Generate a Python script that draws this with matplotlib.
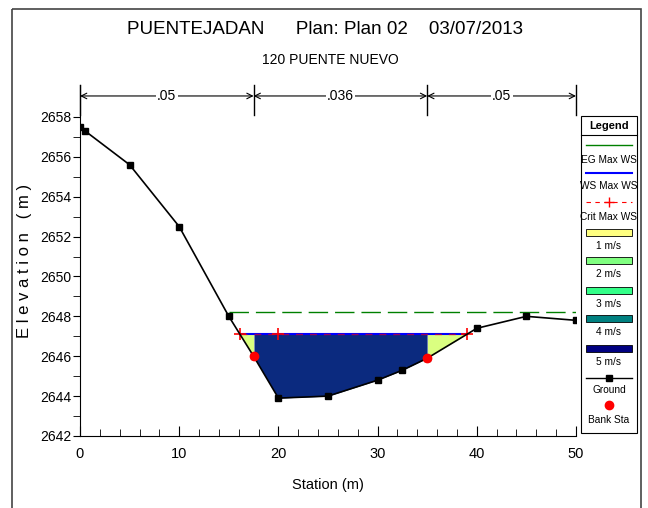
import matplotlib
matplotlib.use("Agg")
import matplotlib.pyplot as plt
import numpy as np
from matplotlib.patches import Rectangle

plt.rcParams['font.family'] = ['Liberation Sans Narrow', 'Liberation Sans', 'DejaVu Sans']

# ground profile
station = [0, 0.5, 5, 10, 15, 17.5, 20, 25, 30, 32.5, 35, 40, 45, 50]
elev = [2657.5, 2657.3, 2655.6, 2652.5, 2648.0, 2646.0, 2643.9, 2644.0, 2644.8, 2645.3, 2645.9, 2647.4, 2648.0, 2647.8]
bank_sta = [17.5, 35]
bank_elev = [2646.0, 2645.9]

ws_elev = 2647.1
eg_elev = 2648.2
eg_start = 15
crit_sta = [16.1, 20, 39.0]

n_breaks = [0, 17.5, 35, 50]
n_values = [".05", ".036", ".05"]

legend_names = ["1 m/s", "2 m/s", "3 m/s", "4 m/s", "5 m/s"]
legend_colors = ["#FFFF80", "#80FF80", "#33FF88", "#008080", "#000080"]
channel_color = "#0B2A7F"
overbank_color = "#DAFF80"

W, H = 648, 508
fig = plt.figure(figsize=(W / 100, H / 100), dpi=100)

ax = fig.add_axes([80 / W, 1 - 436 / H, 496 / W, 351 / H])
ax.set_xlim(0, 50)
ax.set_ylim(2642, 2659.6)

st = np.array(station)
el = np.array(elev)

# water edges
left_edge = np.interp(ws_elev, el[4:6][::-1], st[4:6][::-1])
right_edge = np.interp(ws_elev, el[10:12], st[10:12])

xs = np.linspace(left_edge, right_edge, 600)
gs = np.interp(xs, st, el)
over_l = xs <= bank_sta[0]
over_r = xs >= bank_sta[1]
chan = (xs >= bank_sta[0]) & (xs <= bank_sta[1])
ax.fill_between(xs, gs, ws_elev, where=over_l, color=overbank_color, lw=0)
ax.fill_between(xs, gs, ws_elev, where=over_r, color=overbank_color, lw=0)
ax.fill_between(xs, gs, ws_elev, where=chan, color=channel_color, lw=0)

# EG, WS, crit
ax.plot([eg_start, 50], [eg_elev, eg_elev], color="#008000", lw=1, dashes=(14, 5))
ax.plot([left_edge, right_edge], [ws_elev, ws_elev], color="#0000FF", lw=1.5)
ax.plot([left_edge, right_edge], [ws_elev, ws_elev], color="#FF0000", lw=1, dashes=(5, 5), alpha=0.6)
ax.plot(crit_sta, [ws_elev] * len(crit_sta), ls="none", marker="+", color="#FF0000", ms=8, mew=1.2)

# ground
ax.plot(station, elev, color="black", lw=1.2, marker="s", ms=5, mfc="black", zorder=5)
ax.plot(bank_sta, bank_elev, ls="none", marker="o", color="#FF0000", ms=6, zorder=6)

# n values
for xb in n_breaks:
    ax.plot([xb, xb], [2658.1, 2659.6], color="black", lw=1, clip_on=False)
for i, nv in enumerate(n_values):
    a, b = n_breaks[i], n_breaks[i + 1]
    ax.annotate("", xy=(a, 2659.05), xytext=(b, 2659.05),
                arrowprops=dict(arrowstyle="<->", color="black", lw=0.8, shrinkA=0, shrinkB=0))
    ax.text((a + b) / 2, 2659.05, nv, ha="center", va="center", fontsize=10,
            bbox=dict(fc="white", ec="none", pad=1))

ax.spines['top'].set_visible(False)
ax.spines['right'].set_visible(False)
ax.spines['left'].set_bounds(2642, 2659.6)
ax.set_xticks(range(0, 51, 10))
ax.set_xticks(range(0, 51, 2), minor=True)
ax.set_yticks(range(2642, 2659, 2))
ax.set_yticks(range(2643, 2659, 2), minor=True)
ax.tick_params(axis='x', which='both', direction='in', labelsize=10.5, pad=8)
ax.tick_params(axis='x', which='major', length=7)
ax.tick_params(axis='x', which='minor', length=5)
ax.tick_params(axis='y', which='both', direction='out', length=5, labelsize=10, pad=1)
ax.set_xlabel("Station (m)", fontsize=10.5, labelpad=12)
ax.set_ylabel("E l e v a t i o n   ( m )", fontsize=12, labelpad=6)

# overlay in pixel space for titles, legend and frame
ov2 = fig.add_axes([0, 0, 1, 1], zorder=10)
ov2.set_xlim(0, W)
ov2.set_ylim(H, 0)
ov2.axis("off")
ov2.patch.set_alpha(0)

ov2.text(325, 30, "PUENTEJADAN      Plan: Plan 02    03/07/2013", ha="center", va="center", fontsize=13.5)
ov2.text(330, 60, "120 PUENTE NUEVO", ha="center", va="center", fontsize=10)

ov2.add_patch(Rectangle((12, 9), 629, 510, fill=False, ec="#444444", lw=1.2))

# legend box
fs = 7.3
ov2.add_patch(Rectangle((581, 116), 56, 317, fc="white", ec="black", lw=0.8))
ov2.plot([581, 637], [135, 135], color="black", lw=0.8)
ov2.text(609, 126, "Legend", ha="center", va="center", fontsize=8, fontweight="bold")
ov2.plot([586, 632], [145, 145], color="#008000", lw=1)
ov2.text(609, 160, "EG Max WS", ha="center", va="center", fontsize=fs)
ov2.plot([586, 632], [173, 173], color="#0000FF", lw=1.5)
ov2.text(609, 186, "WS Max WS", ha="center", va="center", fontsize=fs)
ov2.plot([586, 632], [202, 202], color="#FF0000", lw=0.8, dashes=(4, 4))
ov2.plot([609], [202], marker="+", color="#FF0000", ms=7)
ov2.text(609, 217, "Crit Max WS", ha="center", va="center", fontsize=fs)
patch_y = [232, 260, 290, 318, 348]
for py, name, col in zip(patch_y, legend_names, legend_colors):
    ov2.add_patch(Rectangle((586, py - 3.5), 46, 7, fc=col, ec="black", lw=0.6))
    ov2.text(609, py + 14, name, ha="center", va="center", fontsize=fs)
ov2.plot([586, 632], [378, 378], color="black", lw=1)
ov2.plot([609], [378], marker="s", color="black", ms=5)
ov2.text(609, 390, "Ground", ha="center", va="center", fontsize=fs)
ov2.plot([609], [405], marker="o", color="#FF0000", ms=6)
ov2.text(609, 420, "Bank Sta", ha="center", va="center", fontsize=fs)

fig.savefig("out.png", dpi=100)
